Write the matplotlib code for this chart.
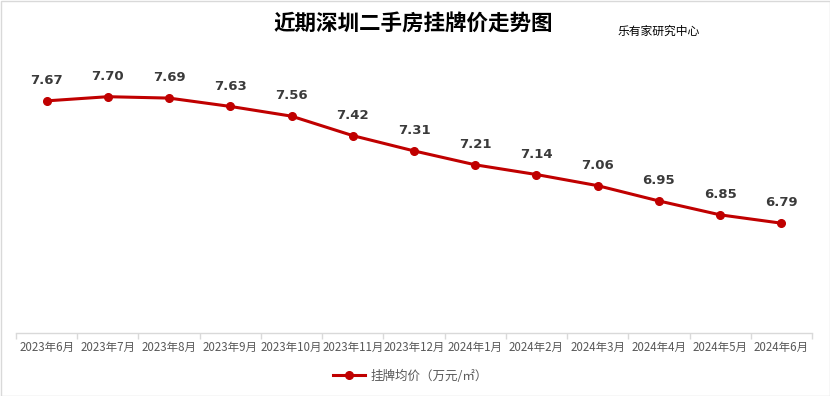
import matplotlib
matplotlib.use("Agg")
import matplotlib.pyplot as plt
from matplotlib.lines import Line2D
from matplotlib.patches import Rectangle

plt.rcParams['font.family'] = ['Noto Sans CJK SC', 'DejaVu Sans']

months = ["2023年6月", "2023年7月", "2023年8月", "2023年9月", "2023年10月", "2023年11月",
          "2023年12月", "2024年1月", "2024年2月", "2024年3月", "2024年4月", "2024年5月", "2024年6月"]
prices = [7.67, 7.70, 7.69, 7.63, 7.56, 7.42, 7.31, 7.21, 7.14, 7.06, 6.95, 6.85, 6.79]
series_name = "挂牌均价（万元/㎡）"
title = "近期深圳二手房挂牌价走势图"
source = "乐有家研究中心"

red = "#C00000"

fig = plt.figure(figsize=(8.3, 3.96), dpi=100)
ax = fig.add_axes([16/830, 1-333/396, (812-16)/830, (333-55)/396])

x = list(range(len(months)))
ax.plot(x, prices, color=red, lw=2.2, marker='o', ms=5.5, mfc=red, mec=red, zorder=3)
for xi, v in zip(x, prices):
    ax.annotate(f"{v:.2f}", (xi, v), xytext=(0, 10), textcoords='offset points',
                ha='center', va='bottom', fontsize=9.5, fontweight='bold', color='#3a3a3a',
                family=['DejaVu Sans'])

ax.set_xlim(-0.5, len(months) - 0.5)
ax.set_ylim(6.0, 8.0)
ax.set_yticks([])
ax.set_xticks(x)
ax.set_xticklabels(months, fontsize=8.3, color='#595959')
ax.tick_params(axis='x', which='major', length=0, pad=6)
ax.set_xticks([i - 0.5 for i in range(len(months) + 1)], minor=True)
ax.tick_params(axis='x', which='minor', length=4, color='#d9d9d9', width=1)
for s in ['top', 'right', 'left']:
    ax.spines[s].set_visible(False)
ax.spines['bottom'].set_color('#d9d9d9')
ax.spines['bottom'].set_linewidth(1)

fig.text(413/830, 1-24/396, title, ha='center', va='center', fontsize=15.5, fontweight='bold', color='black')
fig.text(618/830, 1-31/396, source, ha='left', va='center', fontsize=8.5, color='black')

handle = Line2D([], [], color=red, lw=2.2, marker='o', ms=5.5, mfc=red, mec=red)
fig.legend([handle], [series_name], loc='center', bbox_to_anchor=(410/830, 1-376/396),
           frameon=False, fontsize=9, handlelength=2.6, handletextpad=0.4,
           labelcolor='#595959')

fig.patches.append(Rectangle((0.5/830, 0.5/396), 829/830, 395/396, transform=fig.transFigure,
                             fill=False, edgecolor='#d9d9d9', lw=1))

fig.savefig("out.png", dpi=100)
